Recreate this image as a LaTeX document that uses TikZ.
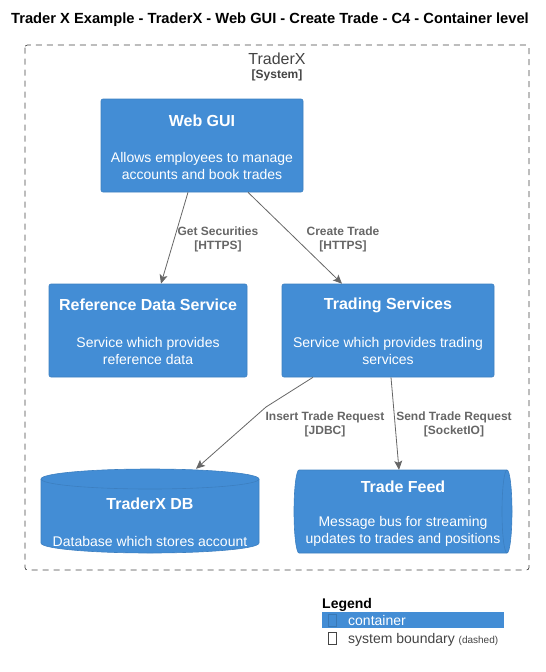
\documentclass[tikz,border=0pt]{standalone}
\usepackage{fontspec}
\setmainfont{Liberation Sans}
\usetikzlibrary{arrows.meta,calc}
\definecolor{c4blue}{HTML}{438DD5}
\definecolor{c4border}{HTML}{3C7FC0}
\definecolor{lblgray}{HTML}{666666}
\definecolor{bgray}{HTML}{444444}
\tikzset{
  cbox/.style={fill=c4blue, draw=c4border, line width=0.6pt, rounded corners=2pt, inner sep=0pt},
  ctitle/.style={text=white, font=\fontsize{16}{19}\selectfont\bfseries, inner sep=0pt, anchor=center},
  cdesc/.style={text=white, font=\fontsize{14}{17}\selectfont, inner sep=0pt, align=center, anchor=center},
  rel/.style={draw=lblgray, line width=0.8pt, -{Stealth[length=9pt,width=8pt,inset=2pt]}},
  rlabel/.style={text=lblgray, font=\fontsize{12}{14}\selectfont\bfseries, align=center, inner sep=0pt},
}
\begin{document}
\begin{tikzpicture}[x=1pt,y=-1pt]
\useasboundingbox (0,0) rectangle (546,672);
% title
\node[font=\fontsize{14.7}{17}\selectfont\bfseries, inner sep=0pt] (title) at (270,20) {Trader X Example - TraderX - Web GUI - Create Trade - C4 - Container level};
% boundary
\draw[bgray, dash pattern=on 6pt off 5pt, line width=0.7pt, rounded corners=2.5pt] (25,45) rectangle (529,570);
\node[text=bgray, font=\fontsize{16}{19}\selectfont, inner sep=0pt] (bname) at (277,59) {TraderX};
\node[text=bgray, font=\fontsize{12}{14}\selectfont\bfseries, inner sep=0pt] (btype) at (277,75) {[System]};
% containers
\node[cbox, minimum width=202pt, minimum height=93pt] (web) at (202,145.5) {};
\node[ctitle] (webt) at (202,121) {Web GUI};
\node[cdesc] (webd) at (202,165.5) {Allows employees to manage\\accounts and book trades};

\node[cbox, minimum width=198pt, minimum height=93pt] (ref) at (148,330.5) {};
\node[ctitle] (reft) at (148,305) {Reference Data Service};
\node[cdesc] (refd) at (148,350.5) {Service which provides\\reference data};

\node[cbox, minimum width=212pt, minimum height=93pt] (trd) at (388,330.5) {};
\node[ctitle] (trdt) at (388,305) {Trading Services};
\node[cdesc] (trdd) at (388,350.5) {Service which provides trading\\services};

% database
\path[fill=c4blue, draw=c4border, line width=0.6pt] (41,479) -- (41,543) arc[start angle=180,end angle=360,x radius=109pt,y radius=10pt] -- (259,479) arc[start angle=0,end angle=180,x radius=109pt,y radius=10pt] -- cycle;
\draw[c4border, line width=0.6pt] (41,479) arc[start angle=180,end angle=360,x radius=109pt,y radius=10pt];
\node[minimum width=218pt, minimum height=84pt, inner sep=0pt] (db) at (150,511) {};
\node[ctitle] (dbt) at (150,504) {TraderX DB};
\node[cdesc] (dbd) at (150,541) {Database which stores account};

% queue
\path[fill=c4blue, draw=c4border, line width=0.6pt] (299,470) -- (507,470) arc[start angle=90,end angle=-90,x radius=5pt,y radius=41.5pt] -- (299,553) arc[start angle=270,end angle=90,x radius=5pt,y radius=41.5pt] -- cycle;
\draw[c4border, line width=0.6pt] (507,470) arc[start angle=90,end angle=270,x radius=5pt,y radius=41.5pt];
\node[minimum width=218pt, minimum height=83pt, inner sep=0pt] (feed) at (403,511.5) {};
\node[ctitle] (feedt) at (403,487) {Trade Feed};
\node[cdesc] (feedd) at (403,531) {Message bus for streaming\\updates to trades and positions};

% relations
\draw[rel] ([xshift=-14pt]web.south) -- ([xshift=13pt]ref.north);
\node[rlabel] (l1) at (218,239) {Get Securities\\{}[HTTPS]};
\draw[rel] ([xshift=46pt]web.south) -- ([xshift=-46pt]trd.north);
\node[rlabel] (l2) at (343,239) {Create Trade\\{}[HTTPS]};
\coordinate (bend) at (266,407);
\draw[rel] ([xshift=-75pt]trd.south) -- (bend) -- ([xshift=46pt]db.north);
\node[rlabel] (l3) at (325,424) {Insert Trade Request\\{}[JDBC]};
\draw[rel] ([xshift=3pt]trd.south) -- ([xshift=-4pt]feed.north);
\node[rlabel] (l4) at (454,424) {Send Trade Request\\{}[SocketIO]};

% legend
\node[anchor=base west, font=\fontsize{14}{17}\selectfont\bfseries, inner sep=0pt] (leg) at (322,608) {Legend};
\fill[c4blue] (322,612) rectangle (504,628);
\draw[c4blue!85!black, line width=0.5pt] (328.5,614.5) rectangle (336.5,626.5);
\node[anchor=west, text=white, font=\fontsize{14}{17}\selectfont, inner sep=0pt] (legc) at (348,620) {container};
\draw[bgray, line width=0.6pt] (328.5,632.5) rectangle (336.5,644.5);
\node[anchor=base west, text=bgray, font=\fontsize{14}{17}\selectfont, inner sep=0pt] (legb) at (348,643) {system boundary {\fontsize{10}{12}\selectfont(dashed)}};
\end{tikzpicture}
\end{document}
